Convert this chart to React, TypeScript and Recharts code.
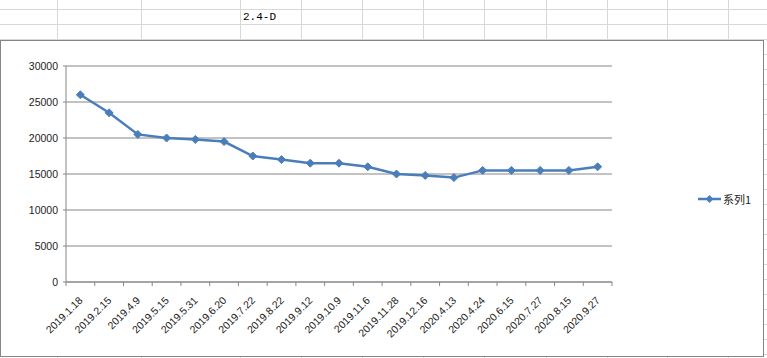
import React from 'react';
import { LineChart, Line, XAxis, YAxis, CartesianGrid } from 'recharts';

const categories = [
  '2019.1.18', '2019.2.15', '2019.4.9', '2019.5.15', '2019.5.31', '2019.6.20', '2019.7.22',
  '2019.8.22', '2019.9.12', '2019.10.9', '2019.11.6', '2019.11.28', '2019.12.16', '2020.4.13',
  '2020.4.24', '2020.6.15', '2020.7.27', '2020.8.15', '2020.9.27',
];
const prices = [
  26000, 23500, 20500, 20000, 19800, 19500, 17500, 17000, 16500, 16500,
  16000, 15000, 14800, 14500, 15500, 15500, 15500, 15500, 16000,
];
const yTicks = [0, 5000, 10000, 15000, 20000, 25000, 30000];
const seriesName = '系列1';
const cellTitle = '2.4-D';

const data = categories.map((c, i) => ({ name: c, idx: i + 0.5, value: prices[i] }));
// boundaries get tick marks, centres get labels
const xTicks: number[] = [];
for (let i = 0; i <= categories.length * 2; i++) xTicks.push(i / 2);

const LINE = '#4A7EBB';
const AXIS = '#868686';
const FONT = '"Liberation Sans", Arial, sans-serif';

const colLines = [57, 141, 240, 301, 362, 423, 484, 546, 607, 667, 728];
const rowLines: number[] = [];
for (let y = 9; y < 358; y += 15) rowLines.push(y);

function Diamond({ cx, cy, r = 4 }: any) {
  if (cx == null || cy == null) return null;
  return (
    <polygon
      points={`${cx},${cy - r} ${cx + r},${cy} ${cx},${cy + r} ${cx - r},${cy}`}
      fill={LINE}
      stroke={LINE}
      strokeWidth={1}
    />
  );
}

function XTick({ x, y, payload }: any) {
  const v = payload.value;
  if (Number.isInteger(v)) {
    return <line x1={x} y1={y} x2={x} y2={y + 4} stroke={AXIS} strokeWidth={1} />;
  }
  const label = categories[Math.floor(v)];
  return (
    <text
      x={x + 3}
      y={y + 19}
      textAnchor="end"
      transform={`rotate(-45 ${x + 3} ${y + 19})`}
      fontFamily={FONT}
      fontSize={10.5}
      fill="#222"
    >
      {label}
    </text>
  );
}

export default function App() {
  return (
    <div style={{ position: 'absolute', left: 0, top: 0, width: 767, height: 358, overflow: 'hidden', background: '#fff' }}>
      {colLines.map((x) => (
        <div key={'c' + x} style={{ position: 'absolute', left: x, top: 0, width: 1, height: 358, background: '#d8d8d8' }} />
      ))}
      {rowLines.map((y) => (
        <div key={'r' + y} style={{ position: 'absolute', left: 0, top: y, width: 767, height: 1, background: '#d8d8d8' }} />
      ))}
      <div style={{ position: 'absolute', left: 243, top: 10, fontFamily: '"Liberation Mono", monospace', fontSize: 11, color: '#000', lineHeight: '14px' }}>
        {cellTitle}
      </div>
      <div
        style={{
          position: 'absolute',
          left: 0,
          top: 40,
          width: 764,
          height: 317,
          boxSizing: 'border-box',
          border: '1px solid #858585',
          background: '#fff',
        }}
      >
        <LineChart width={762} height={315} data={data} margin={{ top: 25, right: 151, bottom: 0, left: 0 }}>
          <CartesianGrid vertical={false} stroke={AXIS} strokeWidth={1} />
          <XAxis
            dataKey="idx"
            type="number"
            domain={[0, categories.length]}
            ticks={xTicks}
            interval={0}
            height={74}
            tickSize={0}
            tickMargin={0}
            tickLine={false}
            tick={<XTick />}
            stroke={AXIS}
            allowDataOverflow
          />
          <YAxis
            domain={[0, 30000]}
            ticks={yTicks}
            interval={0}
            width={65}
            tickSize={3}
            tickMargin={5}
            stroke={AXIS}
            tick={{ fontFamily: FONT, fontSize: 10.5, fill: '#222' }}
          />
          <Line
            dataKey="value"
            stroke={LINE}
            strokeWidth={2.5}
            dot={<Diamond r={4} />}
            activeDot={false}
            isAnimationActive={false}
          />
        </LineChart>
        <div style={{ position: 'absolute', left: 697, top: 150, display: 'flex', alignItems: 'center' }}>
          <svg width={24} height={16}>
            <line x1={0} y1={8} x2={23} y2={8} stroke={LINE} strokeWidth={2.5} />
            <polygon points="11.5,4 15.5,8 11.5,12 7.5,8" fill={LINE} />
          </svg>
          <span style={{ fontFamily: '"Noto Sans CJK SC", sans-serif', fontSize: 11, color: '#222', marginLeft: 1 }}>{seriesName}</span>
        </div>
      </div>
    </div>
  );
}
